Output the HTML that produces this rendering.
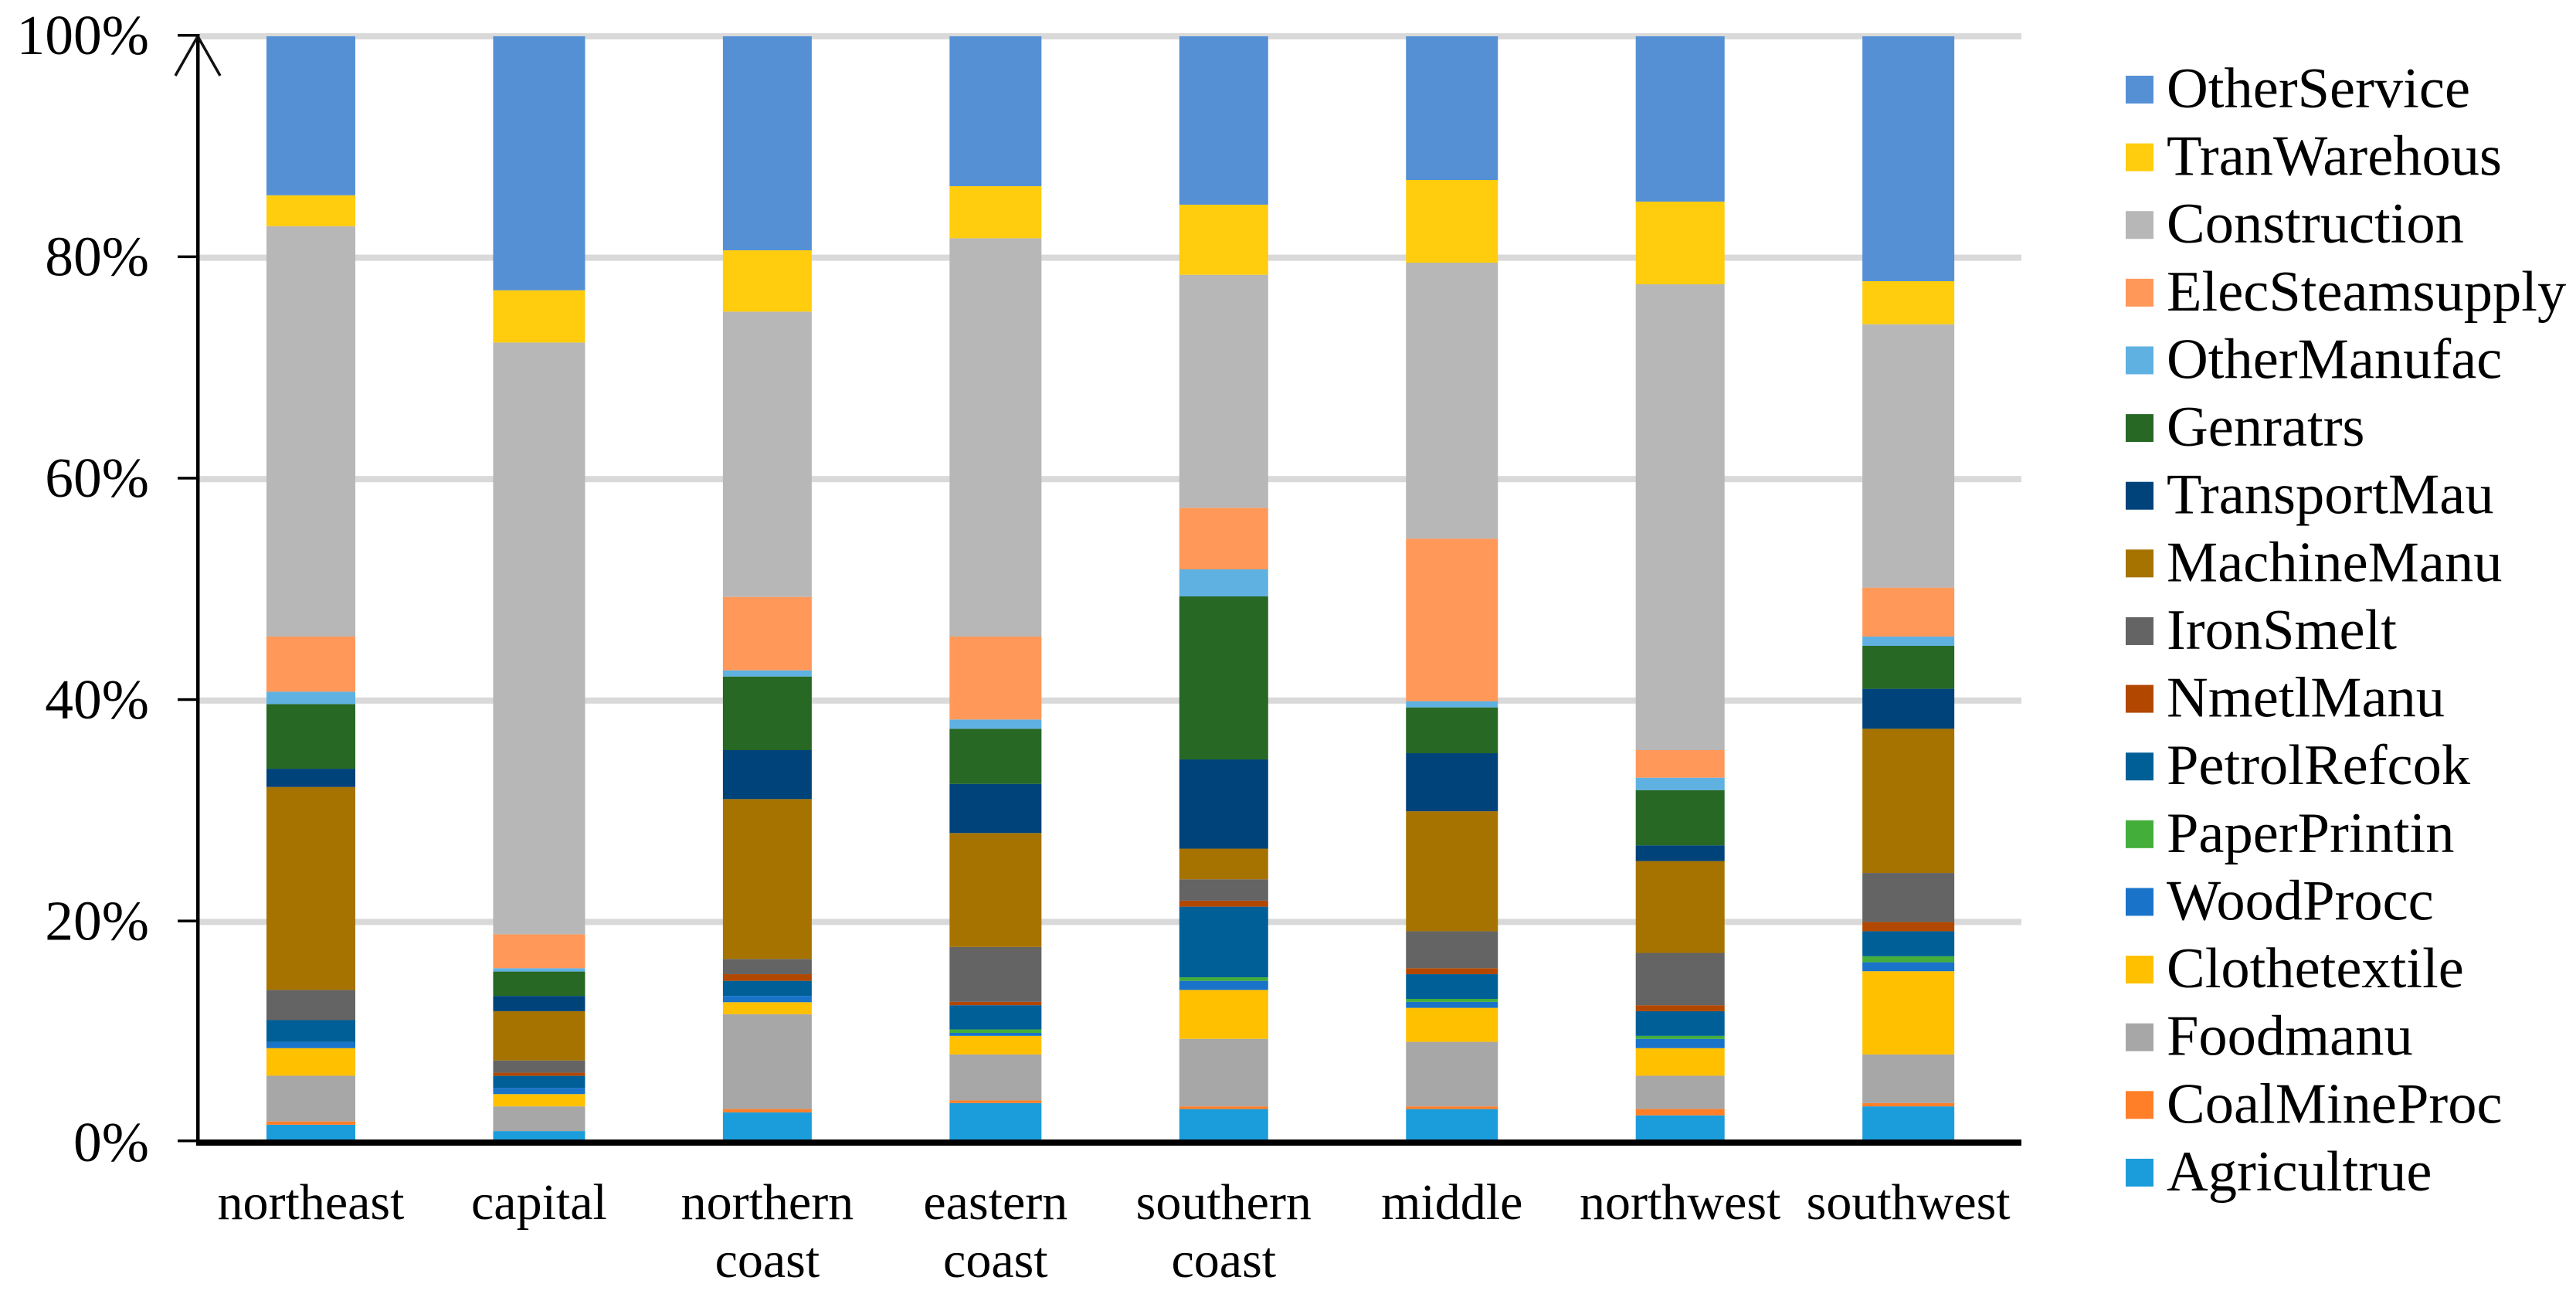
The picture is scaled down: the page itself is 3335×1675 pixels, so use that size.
<!DOCTYPE html>
<html lang="en">
<head>
<meta charset="utf-8">
<title>Regional sector shares (100% stacked bar chart)</title>
<style>
  html, body { margin: 0; padding: 0; background: #ffffff; }
  #chart { display: block; width: 3335px; height: 1675px; }
  text { font-family: "Liberation Serif", "Times New Roman", serif; fill: #000000; }
</style>
</head>
<body>
<svg id="chart" xmlns="http://www.w3.org/2000/svg" width="3335" height="1675" viewBox="0 0 3335 1675">
  <rect x="0" y="0" width="3335" height="1675" fill="#ffffff"></rect>
  <g id="grid"></g>
  <g id="bars"></g>
  <g id="axes"></g>
  <g id="legend"></g>
</svg>
<script>
// Chart data (percent share of each region, bottom to top)
const categories = [["northeast"], ["capital"], ["northern", "coast"], ["eastern", "coast"], ["southern", "coast"], ["middle"], ["northwest"], ["southwest"]];
const yTicks = [0, 20, 40, 60, 80, 100];

const agricultrue = [1.68, 1.11, 2.80, 3.64, 3.10, 3.10, 2.53, 3.34];
const coalMineProc = [0.30, 0.00, 0.30, 0.24, 0.24, 0.24, 0.57, 0.30];
const foodmanu = [4.13, 2.23, 8.57, 4.15, 6.10, 5.83, 3.01, 4.39];
const clothetextile = [2.49, 1.11, 1.08, 1.68, 4.42, 3.07, 2.49, 7.52];
const woodProcc = [0.57, 0.55, 0.57, 0.27, 0.82, 0.54, 0.84, 0.81];
const paperPrintin = [0.00, 0.00, 0.00, 0.31, 0.32, 0.27, 0.27, 0.54];
const petrolRefcok = [1.96, 1.10, 1.36, 2.19, 6.38, 2.23, 2.23, 2.26];
const nmetlManu = [0.00, 0.28, 0.60, 0.30, 0.54, 0.54, 0.54, 0.84];
const ironSmelt = [2.73, 1.11, 1.38, 4.96, 1.93, 3.34, 4.72, 4.42];
const machineManu = [18.33, 4.45, 14.44, 10.29, 2.77, 10.84, 8.30, 13.03];
const transportMau = [1.65, 1.38, 4.42, 4.44, 8.06, 5.24, 1.42, 3.61];
const genratrs = [5.84, 2.20, 6.65, 4.98, 14.73, 4.14, 4.99, 3.88];
const otherManufac = [1.12, 0.30, 0.56, 0.84, 2.44, 0.56, 1.12, 0.84];
const elecSteamsupply = [4.98, 3.07, 6.63, 7.49, 5.56, 14.68, 2.49, 4.42];
const construction = [37.07, 53.45, 25.77, 35.98, 21.05, 24.93, 42.08, 23.79];
const tranWarehous = [2.79, 4.72, 5.54, 4.70, 6.33, 7.47, 7.47, 3.89];
const otherService = [14.36, 22.94, 19.33, 13.54, 15.21, 12.98, 14.93, 22.12];

const seriesNames = ["Agricultrue", "CoalMineProc", "Foodmanu", "Clothetextile", "WoodProcc", "PaperPrintin", "PetrolRefcok", "NmetlManu", "IronSmelt", "MachineManu", "TransportMau", "Genratrs", "OtherManufac", "ElecSteamsupply", "Construction", "TranWarehous", "OtherService"];
const seriesValues = [agricultrue, coalMineProc, foodmanu, clothetextile, woodProcc, paperPrintin, petrolRefcok, nmetlManu, ironSmelt, machineManu, transportMau, genratrs, otherManufac, elecSteamsupply, construction, tranWarehous, otherService];
const seriesColors = ["#1C9DDB", "#FF7F28", "#A7A7A7", "#FFC000", "#1973C9", "#43AE3A", "#005F97", "#B24700", "#646464", "#A67300", "#00427A", "#266824", "#5FB1E2", "#FF9859", "#B7B7B7", "#FFCD0D", "#5590D5"];

const SVG_NS = "http://www.w3.org/2000/svg";

function yScale(v) { return 1480 - v * 14.33; }
function xCenter(i) { return 402.5 + i * 295.45; }
function barWidth(i) { return i % 2 ? 119 : 115; }
function slug(s) { return s.toLowerCase().replace(/[^a-z0-9]+/g, "-"); }

function make(tag, attrs, parent) {
  const el = document.createElementNS(SVG_NS, tag);
  for (const k in attrs) el.setAttribute(k, attrs[k]);
  parent.appendChild(el);
  return el;
}

const gridG = document.getElementById("grid");
const barsG = document.getElementById("bars");
const axesG = document.getElementById("axes");
const legendG = document.getElementById("legend");

// gridlines
yTicks.forEach(function (t) {
  if (t === 0) return;
  const line = make("rect", { x: 258, y: yScale(t) - 4, width: 2359, height: 8, fill: "#D9D9D9" }, gridG);
  
  
});

// stacked bars
categories.forEach(function (cat, i) {
  let cum = 0;
  const w = barWidth(i);
  seriesValues.forEach(function (vals, s) {
    const v = vals[i];
    const top = yScale(cum + v);
    const bottom = yScale(cum);
    cum += v;
    if (v <= 0) return;
    const seg = make("rect", { x: xCenter(i) - w / 2, y: top, width: w, height: bottom - top, fill: seriesColors[s] }, barsG);
    
    
  });
});

// y axis, ticks and tick labels
const yAxis = make("rect", { x: 254, y: 44, width: 4.5, height: 1439, fill: "#000000" }, axesG);



const xAxis = make("rect", { x: 254, y: 1475, width: 2363, height: 8, fill: "#000000" }, axesG);



const arrow = make("path", { d: "M227 98 L256 47 L285 98", fill: "none", stroke: "#111111", "stroke-width": 3.5 }, axesG);



yTicks.forEach(function (t) {
  const tick = make("rect", { x: 230, y: yScale(t) - (t === 0 ? 5 : 3), width: 26, height: 3.5, fill: "#000000" }, axesG);
  
  
  const label = make("text", { x: 193, y: yScale(t) + 23, "font-size": 73.5, "text-anchor": "end" }, axesG);
  label.textContent = t + "%";
  
  
});

// category labels
categories.forEach(function (cat, i) {
  cat.forEach(function (word, ln) {
    const label = make("text", { x: xCenter(i), y: 1578 + ln * 75, "font-size": 66, "text-anchor": "middle" }, axesG);
    label.textContent = word;
    
    
  });
});

// legend (top entry is the last series)
seriesNames.slice().reverse().forEach(function (name, k) {
  const s = seriesNames.length - 1 - k;
  const cy = 116 + k * 87.62;
  const swatch = make("rect", { x: 2752, y: cy - 18, width: 36, height: 36, fill: seriesColors[s] }, legendG);
  
  
  const label = make("text", { x: 2805, y: cy + 23, "font-size": 74.5 }, legendG);
  label.textContent = name;
  
  
});
</script>
</body>
</html>
